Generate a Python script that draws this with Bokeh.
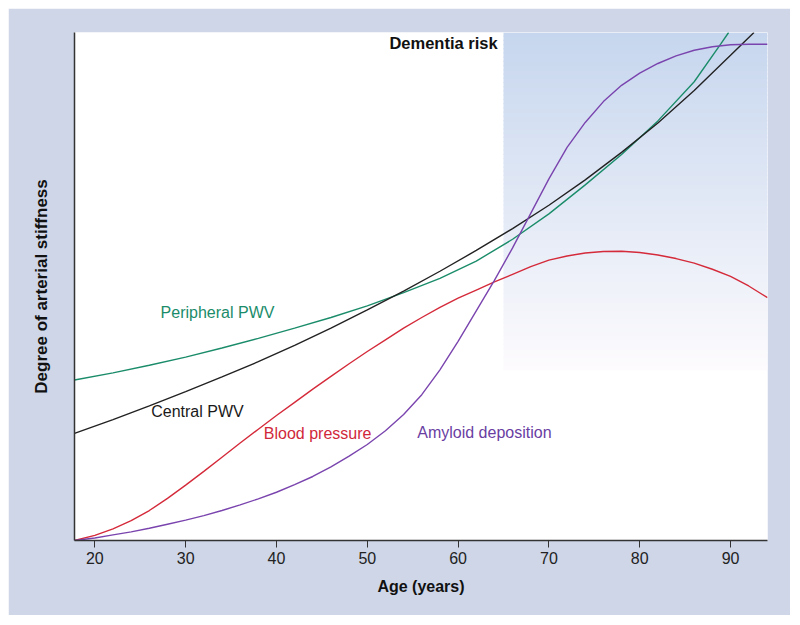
import numpy as np
from bokeh.plotting import figure
from bokeh.models import Range1d, FixedTicker, ColumnDataSource
from bokeh.core.properties import value
from bokeh.embed import file_html
from bokeh.resources import INLINE

# ---- data ----
x_ticks = [20, 30, 40, 50, 60, 70, 80, 90]
dementia_start_age = 65
dementia_bottom = 33.5

peripheral_age = [17.76, 22, 26, 30, 34, 38, 42, 46, 50, 54, 58, 62, 66, 70, 74, 78, 82, 86, 88.91, 89.79]
peripheral_val = [31.6, 33.0, 34.5, 36.1, 37.9, 39.8, 41.8, 43.9, 46.2, 48.8, 51.6, 55.0, 59.3, 64.3, 70.0, 76.0, 82.6, 90.3, 97.7, 100.0]

central_age = [17.76, 22, 26, 30, 34, 38, 42, 46, 50, 54, 58, 62, 66, 70, 74, 78, 82, 86, 90, 92.58]
central_val = [21.1, 23.8, 26.5, 29.3, 32.2, 35.2, 38.4, 41.8, 45.4, 49.1, 53.0, 57.1, 61.4, 66.0, 71.0, 76.4, 82.2, 88.6, 95.5, 100.0]

bp_age = [17.76, 20, 22, 24, 26, 28, 30, 32, 34, 36, 38, 40, 42, 44, 46, 48, 50, 52, 54, 56, 58, 60,
          62, 64, 66, 68, 70, 72, 74, 76, 78, 80, 82, 84, 86, 88, 90, 92, 94.07]
bp_val = [0.0, 1.0, 2.3, 3.9, 5.9, 8.3, 10.9, 13.6, 16.4, 19.2, 21.9, 24.6, 27.2, 29.8, 32.3, 34.8, 37.2, 39.5, 41.8, 43.9, 45.9, 47.7,
          49.3, 50.9, 52.4, 53.9, 55.2, 56.0, 56.6, 56.9, 56.95, 56.7, 56.2, 55.5, 54.6, 53.4, 52.0, 50.1, 47.8]

amyloid_age = [17.76, 20, 22, 24, 26, 28, 30, 32, 34, 36, 38, 40, 42, 44, 46, 48, 50, 52, 54, 56, 58, 60,
               62, 64, 66, 68, 70, 72, 74, 76, 78, 80, 82, 84, 86, 88, 90, 92, 94.07]
amyloid_val = [0.0, 0.5, 1.1, 1.7, 2.4, 3.2, 4.0, 4.9, 5.9, 7.0, 8.2, 9.5, 11.0, 12.6, 14.5, 16.6, 18.9, 21.6, 24.8, 28.7, 33.6, 39.2,
               45.2, 51.2, 57.6, 64.4, 71.2, 77.4, 82.3, 86.4, 89.6, 92.0, 93.9, 95.4, 96.5, 97.2, 97.6, 97.7, 97.7]

label_text = ["Peripheral PWV", "Central PWV", "Blood pressure", "Amyloid deposition"]
label_age = [27.24, 26.21, 38.61, 55.5]
label_val = [44.9, 25.3, 21.0, 21.3]
label_color = ["#1b8c6a", "#1a1a1a", "#d0283a", "#6a3ea2"]

FONT = "Liberation Sans"

X0, X1 = 17.76, 94.07
p = figure(width=782, height=607, x_range=Range1d(X0, X1), y_range=Range1d(0, 100),
           output_backend="svg", toolbar_location=None,
           min_border_left=66, min_border_right=23, min_border_top=24, min_border_bottom=75)
p.margin = (8, 8, 8, 8)
p.background_fill_color = "white"
p.border_fill_color = "#ced6e8"
p.outline_line_color = None
p.grid.visible = False

# dementia risk gradient shading
n = 80
edges = np.linspace(dementia_bottom, 100, n + 1)
top_c = np.array([198, 214, 238])
bot_c = np.array([253, 251, 253])
cols = []
for i in range(n):
    t = (i + 0.5) / n  # 0 bottom -> 1 top
    c = bot_c + (top_c - bot_c) * t
    cols.append("#%02x%02x%02x" % tuple(int(round(v)) for v in c))
shade = ColumnDataSource(dict(left=[dementia_start_age] * n, right=[X1] * n,
                              bottom=edges[:-1], top=np.minimum(edges[1:] + 0.25, 100), color=cols))
p.quad(left="left", right="right", bottom="bottom", top="top", fill_color="color",
       line_color=None, source=shade)

lw = 1.4
p.line(peripheral_age, peripheral_val, line_color="#1b8c6a", line_width=lw)
p.line(central_age, central_val, line_color="#222222", line_width=lw)
p.line(bp_age, bp_val, line_color="#d42a3a", line_width=lw)
p.line(amyloid_age, amyloid_val, line_color="#7a44ae", line_width=lw)

p.text(x=label_age, y=label_val, text=label_text, text_color=label_color,
       text_font=value(FONT), text_font_size="16px", text_baseline="middle", text_align="left")
p.text(x=[64.35], y=[98.0], text=["Dementia risk"], text_color="#111111",
       text_font=value(FONT), text_font_size="16.5px", text_font_style="bold",
       text_baseline="middle", text_align="right")

# axes
for ax in (p.xaxis[0], p.yaxis[0]):
    ax.axis_line_color = "#333333"
    ax.axis_line_width = 1.5
    ax.minor_tick_line_color = None
    ax.axis_label_text_font = FONT
    ax.axis_label_text_font_size = "16px"
    ax.axis_label_text_font_style = "bold"
    ax.axis_label_text_color = "#111111"
    ax.major_label_text_font = FONT
    ax.major_label_text_font_size = "16px"
    ax.major_label_text_color = "#222222"

p.xaxis.ticker = FixedTicker(ticks=x_ticks)
p.xaxis.major_tick_out = 7
p.xaxis.major_tick_in = 0
p.xaxis.major_tick_line_color = "#333333"
p.xaxis.major_label_standoff = 4
p.xaxis.axis_label = "Age (years)"
p.xaxis.axis_label_standoff = 11

p.yaxis.ticker = FixedTicker(ticks=[])
p.yaxis.major_tick_out = 0
p.yaxis.major_tick_in = 0
p.yaxis.axis_label = "Degree of arterial stiffness"
p.yaxis.axis_label_text_font_size = "17px"
p.yaxis.axis_label_standoff = 24

open("out.html", "w").write(file_html(p, INLINE))
